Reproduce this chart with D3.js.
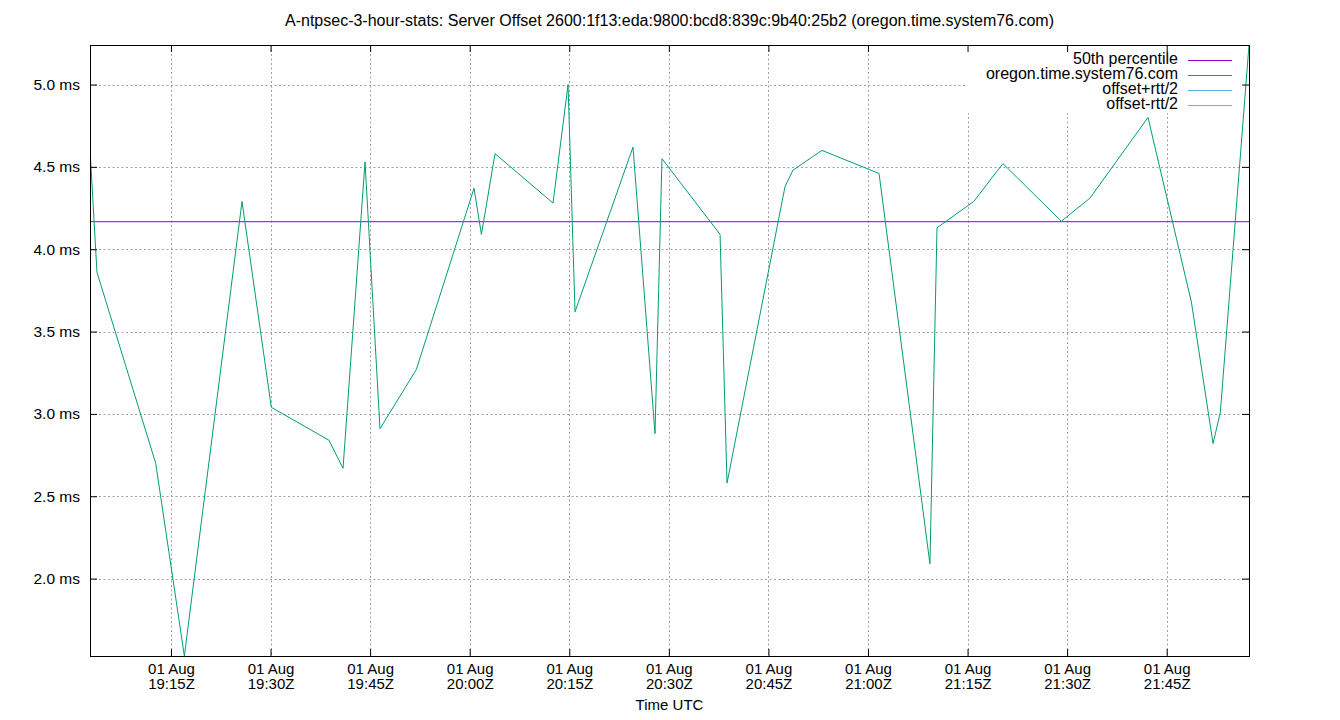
<!DOCTYPE html>
<html>
<head>
<meta charset="utf-8">
<title>Server Offset</title>
<script src="https://cdn.jsdelivr.net/npm/d3@7"></script>
<style>
    body { margin: 0; background: #fff; }
    svg { display: block; font-family: "Liberation Sans", Arial, sans-serif; }
</style>
</head>
<body>
<div id="chart"></div>
<script>
(function(){
    "use strict";

    // sample times (UTC, 01 Aug) and offsets in ms
    var sampleTimes = [
        "19:02:48", "19:03:51", "19:12:42", "19:17:01", "19:25:42", "19:30:07",
        "19:38:48", "19:40:55", "19:44:14", "19:46:29", "19:51:58", "20:00:39",
        "20:01:46", "20:03:49", "20:12:33", "20:14:49", "20:15:52", "20:24:36",
        "20:27:55", "20:28:58", "20:37:43", "20:38:46", "20:47:30", "20:48:42",
        "20:53:04", "21:01:40", "21:09:20", "21:10:24", "21:15:56", "21:20:20",
        "21:29:08", "21:33:26", "21:42:11", "21:48:43", "21:51:59", "21:53:05",
        "21:57:24"
    ];
    var offsetMs = [
        4.61, 3.86, 2.70, 1.53, 4.29, 3.04,
        2.84, 2.67, 4.53, 2.91, 3.27, 4.37,
        4.09, 4.58, 4.28, 5.00, 3.62, 4.62,
        2.88, 4.55, 4.09, 2.58, 4.38, 4.48,
        4.60, 4.46, 2.09, 4.13, 4.29, 4.52,
        4.17, 4.31, 4.80, 3.68, 2.82, 3.01,
        5.24
    ];
    var medianMs = 4.167;

    var yTickValues = [2.0, 2.5, 3.0, 3.5, 4.0, 4.5, 5.0];
    var legendLabels = ["50th percentile", "oregon.time.system76.com", "offset+rtt/2", "offset-rtt/2"];
    var legendColors = ["#9400d3", "#009e73", "#56b4e9", "#e69f00"];

    var titleText = "A-ntpsec-3-hour-stats: Server Offset 2600:1f13:eda:9800:bcd8:839c:9b40:25b2 (oregon.time.system76.com)";
    var xTitle = "Time UTC";

    var width = 1340, height = 720;
    var margin = { top: 45, right: 91, bottom: 64, left: 90 };
    var plotW = width - margin.left - margin.right;
    var plotH = height - margin.top - margin.bottom;
    var tickLen = 7;

    var parseTime = d3.utcParse("%Y-%m-%d %H:%M:%S");
    var data = sampleTimes.map(function(t, i) {
        return { time: parseTime("2019-08-01 " + t), value: offsetMs[i] };
    });

    var svg = d3.select("#chart")
        .append("svg")
        .attr("width", width)
        .attr("height", height);

    var x = d3.scaleUtc()
        .domain(d3.extent(data, function(d) { return d.time; }))
        .range([0, plotW]);

    var y = d3.scaleLinear()
        .domain(d3.extent(data, function(d) { return d.value; }))
        .range([plotH, 0]);

    var xTicks = x.ticks(d3.utcMinute.every(15));

    var g = svg.append("g")
        .attr("transform", "translate(" + margin.left + "," + margin.top + ")");

    // grid
    var grid = g.append("g")
        .attr("stroke", "#a0a0a0")
        .attr("stroke-width", 1)
        .attr("stroke-dasharray", "2,2.5");

    grid.selectAll("line.gx")
        .data(xTicks)
        .enter()
        .append("line")
        .attr("class", "gx")
        .attr("x1", function(d) { return Math.round(x(d)) + 0.5; })
        .attr("x2", function(d) { return Math.round(x(d)) + 0.5; })
        .attr("y1", 0)
        .attr("y2", plotH);

    grid.selectAll("line.gy")
        .data(yTickValues)
        .enter()
        .append("line")
        .attr("class", "gy")
        .attr("x1", 0)
        .attr("x2", plotW)
        .attr("y1", function(d) { return Math.round(y(d)) + 0.5; })
        .attr("y2", function(d) { return Math.round(y(d)) + 0.5; });

    // key box hides the grid behind it
    var keyX = 875, keyH = 68;
    g.append("rect")
        .attr("x", keyX)
        .attr("y", 0)
        .attr("width", plotW - keyX)
        .attr("height", keyH)
        .attr("fill", "#fff");

    g.append("defs").append("clipPath")
        .attr("id", "plotclip")
        .append("rect")
        .attr("width", plotW)
        .attr("height", plotH);

    // median line
    g.append("line")
        .attr("x1", 0)
        .attr("x2", plotW)
        .attr("y1", y(medianMs))
        .attr("y2", y(medianMs))
        .attr("stroke", legendColors[0])
        .attr("stroke-width", 1);

    var line = d3.line()
        .x(function(d) { return x(d.time); })
        .y(function(d) { return y(d.value); });

    g.append("path")
        .datum(data)
        .attr("clip-path", "url(#plotclip)")
        .attr("fill", "none")
        .attr("stroke", legendColors[1])
        .attr("stroke-width", 1)
        .attr("stroke-linejoin", "miter")
        .attr("d", line);

    // border
    g.append("rect")
        .attr("x", 0.5)
        .attr("y", 0.5)
        .attr("width", plotW)
        .attr("height", plotH)
        .attr("fill", "none")
        .attr("stroke", "#000")
        .attr("stroke-width", 1);

    // axes with inward, mirrored ticks
    var fmtDay = d3.utcFormat("%d %b");
    var fmtHour = d3.utcFormat("%H:%MZ");

    var xAxis = g.append("g")
        .attr("transform", "translate(0," + plotH + ")")
        .call(d3.axisBottom(x).tickValues(xTicks).tickSize(-tickLen).tickFormat(""));
    xAxis.select(".domain").remove();
    xAxis.selectAll(".tick text").remove();
    xAxis.selectAll(".tick").each(function(d) {
        var tick = d3.select(this);
        tick.append("text")
            .attr("y", 18)
            .attr("fill", "#000")
            .attr("font-size", "15px")
            .attr("text-anchor", "middle")
            .text(fmtDay(d));
        tick.append("text")
            .attr("y", 33)
            .attr("fill", "#000")
            .attr("font-size", "15px")
            .attr("text-anchor", "middle")
            .text(fmtHour(d));
    });

    var xTop = g.append("g")
        .call(d3.axisTop(x).tickValues(xTicks).tickSize(-tickLen).tickFormat(""));
    xTop.select(".domain").remove();

    var yAxis = g.append("g")
        .call(d3.axisLeft(y).tickValues(yTickValues).tickSize(-tickLen)
            .tickPadding(10)
            .tickFormat(function(d) { return d3.format(".1f")(d) + " ms"; }));
    yAxis.select(".domain").remove();
    yAxis.selectAll(".tick text")
        .attr("font-size", "15.5px")
        .attr("font-family", "Liberation Sans, Arial, sans-serif");

    var yRight = g.append("g")
        .attr("transform", "translate(" + plotW + ",0)")
        .call(d3.axisRight(y).tickValues(yTickValues).tickSize(-tickLen).tickFormat(""));
    yRight.select(".domain").remove();

    g.selectAll(".tick line").attr("stroke", "#000");

    // key
    var key = g.append("g")
        .attr("transform", "translate(" + (plotW - 71) + ",15)");
    var rows = key.selectAll("g")
        .data(legendLabels)
        .enter()
        .append("g")
        .attr("transform", function(d, i) { return "translate(0," + (i * 15) + ")"; });
    rows.append("text")
        .attr("x", 0)
        .attr("y", 4)
        .attr("text-anchor", "end")
        .attr("font-size", "16px")
        .text(function(d) { return d; });
    rows.append("line")
        .attr("x1", 10)
        .attr("x2", 54)
        .attr("y1", 0.5)
        .attr("y2", 0.5)
        .attr("stroke", function(d, i) { return legendColors[i]; })
        .attr("stroke-width", 1);

    // titles
    svg.append("text")
        .attr("x", margin.left + plotW / 2)
        .attr("y", 26)
        .attr("text-anchor", "middle")
        .attr("font-size", "16px")
        .text(titleText);

    svg.append("text")
        .attr("x", margin.left + plotW / 2)
        .attr("y", 710)
        .attr("text-anchor", "middle")
        .attr("font-size", "15px")
        .text(xTitle);

    console.log(data.length + " samples");
})();
</script>
</body>
</html>
